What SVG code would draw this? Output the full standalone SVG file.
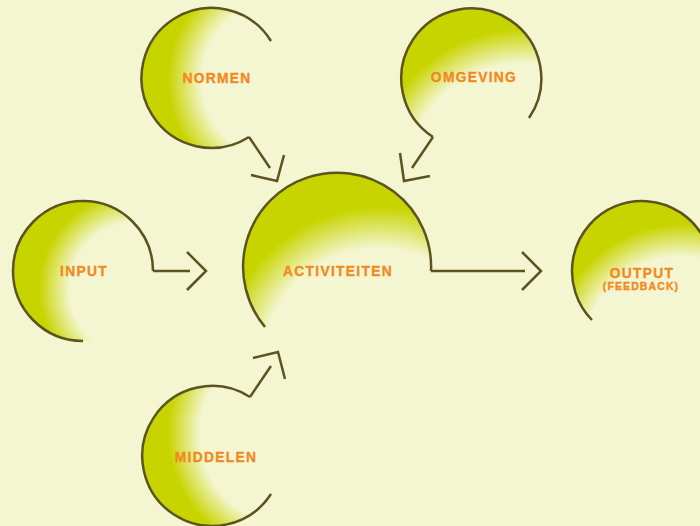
<svg xmlns="http://www.w3.org/2000/svg" width="700" height="526" viewBox="0 0 700 526">
<style>
.arc{fill:none;stroke:#5b5421;stroke-width:2.5;stroke-linecap:butt}
.con{fill:none;stroke:#5b5421;stroke-width:2.5;stroke-linejoin:miter}
.lbl{font-family:"Liberation Sans",Arial,sans-serif;font-weight:bold;font-size:13.8px;letter-spacing:1.3px;fill:#f08a1e;stroke:#f08a1e;stroke-width:0.35px;text-anchor:middle}
.sub{font-size:10.5px;letter-spacing:1.1px}
</style>
<defs>
<radialGradient id="gN" gradientUnits="userSpaceOnUse" cx="282" cy="80" r="114"><stop offset="0" stop-color="#f4f6d2"/><stop offset="0.7" stop-color="#f4f6d2"/><stop offset="1" stop-color="#c8d400"/></radialGradient>
<radialGradient id="gO" gradientUnits="userSpaceOnUse" cx="523" cy="181" r="152"><stop offset="0" stop-color="#f4f6d2"/><stop offset="0.77" stop-color="#f4f6d2"/><stop offset="1" stop-color="#c8d400"/></radialGradient>
<radialGradient id="gI" gradientUnits="userSpaceOnUse" cx="136" cy="289" r="97"><stop offset="0" stop-color="#f4f6d2"/><stop offset="0.68" stop-color="#f4f6d2"/><stop offset="1" stop-color="#c8d400"/></radialGradient>
<radialGradient id="gA" gradientUnits="userSpaceOnUse" cx="379" cy="365" r="158"><stop offset="0" stop-color="#f4f6d2"/><stop offset="0.735" stop-color="#f4f6d2"/><stop offset="1" stop-color="#c8d400"/></radialGradient>
<radialGradient id="gU" gradientUnits="userSpaceOnUse" cx="682" cy="356" r="132"><stop offset="0" stop-color="#f4f6d2"/><stop offset="0.75" stop-color="#f4f6d2"/><stop offset="1" stop-color="#c8d400"/></radialGradient>
<radialGradient id="gM" gradientUnits="userSpaceOnUse" cx="292" cy="433" r="124"><stop offset="0" stop-color="#f4f6d2"/><stop offset="0.74" stop-color="#f4f6d2"/><stop offset="1" stop-color="#c8d400"/></radialGradient>
</defs>
<rect width="700" height="526" fill="#f4f6d2"/>
<g id="normen">
<circle cx="212" cy="78" r="70" fill="url(#gN)"/>
<path class="arc" d="M271,41 A70,70 0 1 0 249,137"/>
<text class="lbl" x="217" y="83">NORMEN</text>
</g>
<g id="omgeving">
<circle cx="470" cy="78" r="70" fill="url(#gO)"/>
<path class="arc" d="M433,137 A70,70 0 1 1 529,118"/>
<text class="lbl" x="474" y="82">OMGEVING</text>
</g>
<g id="input">
<circle cx="83" cy="271" r="70" fill="url(#gI)"/>
<path class="arc" d="M153,271 A70,70 0 1 0 83,341"/>
<text class="lbl" x="84" y="276">INPUT</text>
</g>
<g id="activiteiten">
<circle cx="337" cy="267" r="94" fill="url(#gA)"/>
<path class="arc" d="M431,271 A94,94 0 1 0 265,327"/>
<text class="lbl" x="338" y="276">ACTIVITEITEN</text>
</g>
<g id="output">
<circle cx="642" cy="271" r="70" fill="url(#gU)"/>
<path class="arc" d="M712,271 A70,70 0 1 0 592,320"/>
<text class="lbl" x="642" y="278">OUTPUT</text>
<text class="lbl sub" x="641" y="290">(FEEDBACK)</text>
</g>
<g id="middelen">
<circle cx="212" cy="456" r="70" fill="url(#gM)"/>
<path class="arc" d="M271,494 A70,70 0 1 1 250,397"/>
<text class="lbl" x="216" y="462">MIDDELEN</text>
</g>
<g id="connectors">
<path class="con" d="M249,137 L270,168"/>
<path class="con" d="M251,175 L277,181 L284,155"/>
<path class="con" d="M433,137 L412,168"/>
<path class="con" d="M400,153 L404,181 L430,176"/>
<path class="con" d="M153,271 L190,271"/>
<path class="con" d="M187,252 L206,271 L187,290"/>
<path class="con" d="M431,271 L525,271"/>
<path class="con" d="M522,252 L541,271 L522,290"/>
<path class="con" d="M250,397 L271,366"/>
<path class="con" d="M253,358 L278,352 L285,379"/>
</g>
</svg>
